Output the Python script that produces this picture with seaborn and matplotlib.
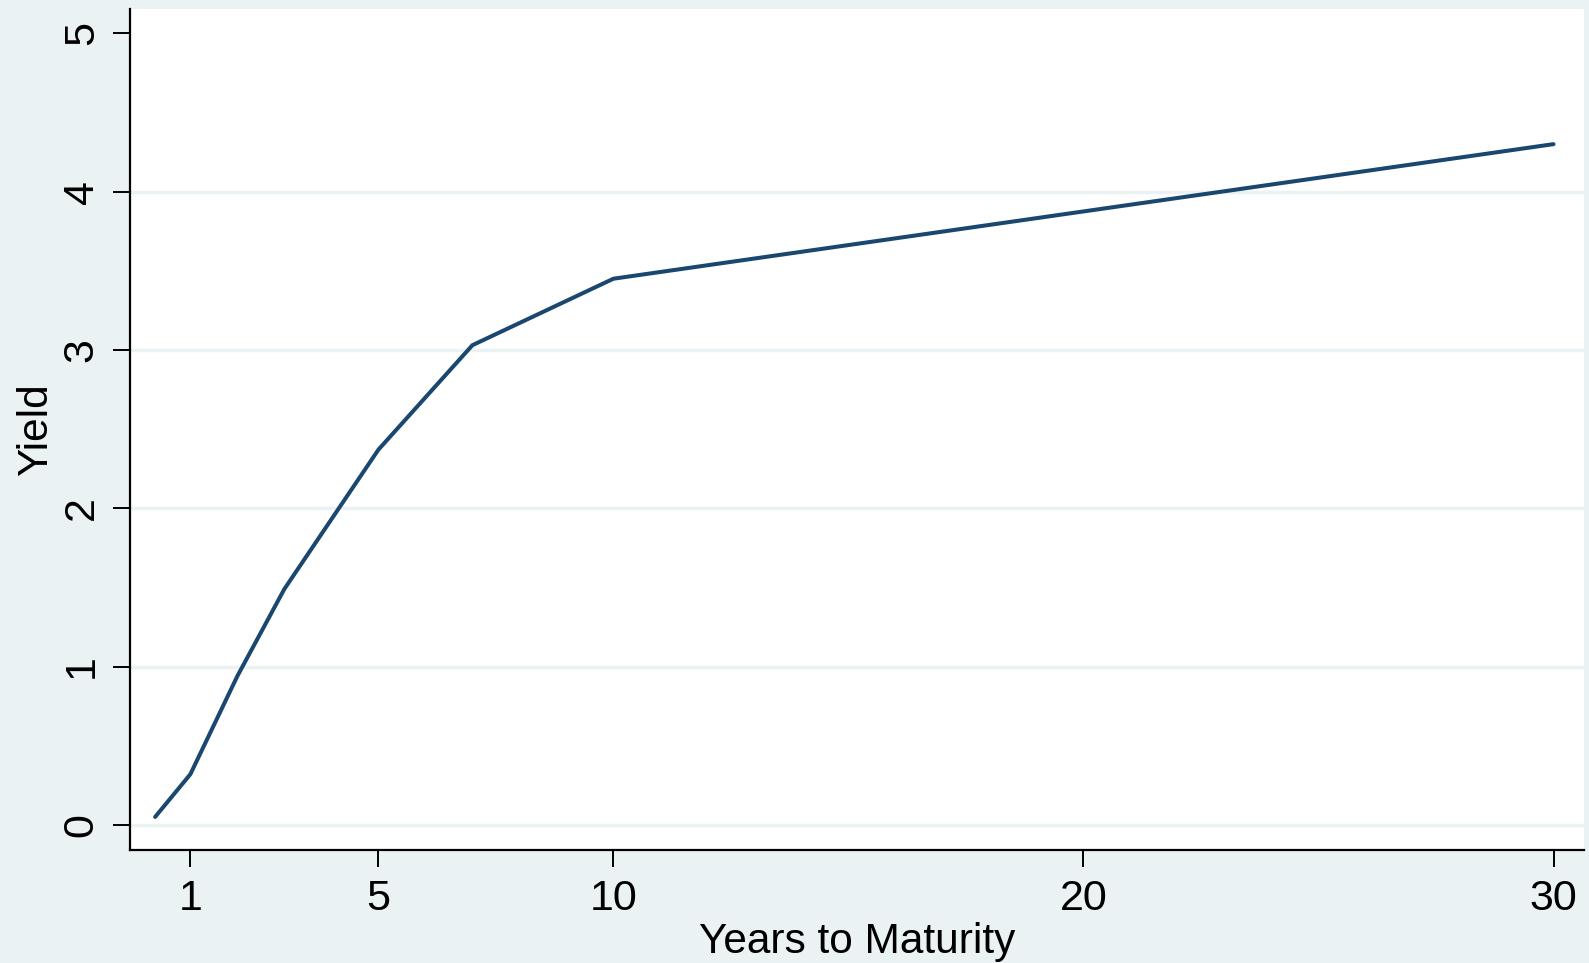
import matplotlib
matplotlib.use("Agg")
import matplotlib.pyplot as plt
import seaborn as sns
import pandas as pd

# yield curve
maturity = [0.25, 1, 2, 3, 5, 7, 10, 30]
yields = [0.05, 0.32, 0.94, 1.49, 2.37, 3.03, 3.45, 4.30]
x_ticks = [1, 5, 10, 20, 30]
y_ticks = [0, 1, 2, 3, 4, 5]

bg = "#EAF2F3"
navy = "#1A476F"

sns.set_style("ticks")
plt.rcParams['font.family'] = ['Liberation Sans', 'DejaVu Sans']
plt.rcParams['text.color'] = 'black'
plt.rcParams['axes.labelcolor'] = 'black'
plt.rcParams['xtick.color'] = 'black'
plt.rcParams['ytick.color'] = 'black'

df = pd.DataFrame({"Years to Maturity": maturity, "Yield": yields})

fig = plt.figure(figsize=(15.89, 9.63), dpi=100, facecolor=bg)
ax = fig.add_axes([0.0815, 0.1173, 0.9969 - 0.0815, 0.9907 - 0.1173])
ax.set_facecolor("white")

for v in y_ticks[:-1]:
    ax.axhline(v, color=bg, lw=2.5, zorder=0)

sns.lineplot(data=df, x="Years to Maturity", y="Yield", color=navy, lw=2.9, ax=ax)

ax.set_xlim(-0.295, 30.65)
ax.set_ylim(-0.159, 5.154)
ax.set_xticks(x_ticks)
ax.set_yticks(y_ticks)
ax.tick_params(axis="both", length=12, width=1.4, labelsize=31)
ax.tick_params(axis="x", pad=9)
ax.tick_params(axis="y", pad=8)
for lab in ax.get_yticklabels():
    lab.set_rotation(90)
    lab.set_va("center")

ax.set_xlabel("Years to Maturity", fontsize=30.5, labelpad=2)
ax.set_ylabel("Yield", fontsize=30.5, labelpad=4)

sns.despine(ax=ax)
for s in ["left", "bottom"]:
    ax.spines[s].set_linewidth(1.6)
    ax.spines[s].set_color("black")

fig.savefig("out.png", dpi=100, facecolor=bg)
